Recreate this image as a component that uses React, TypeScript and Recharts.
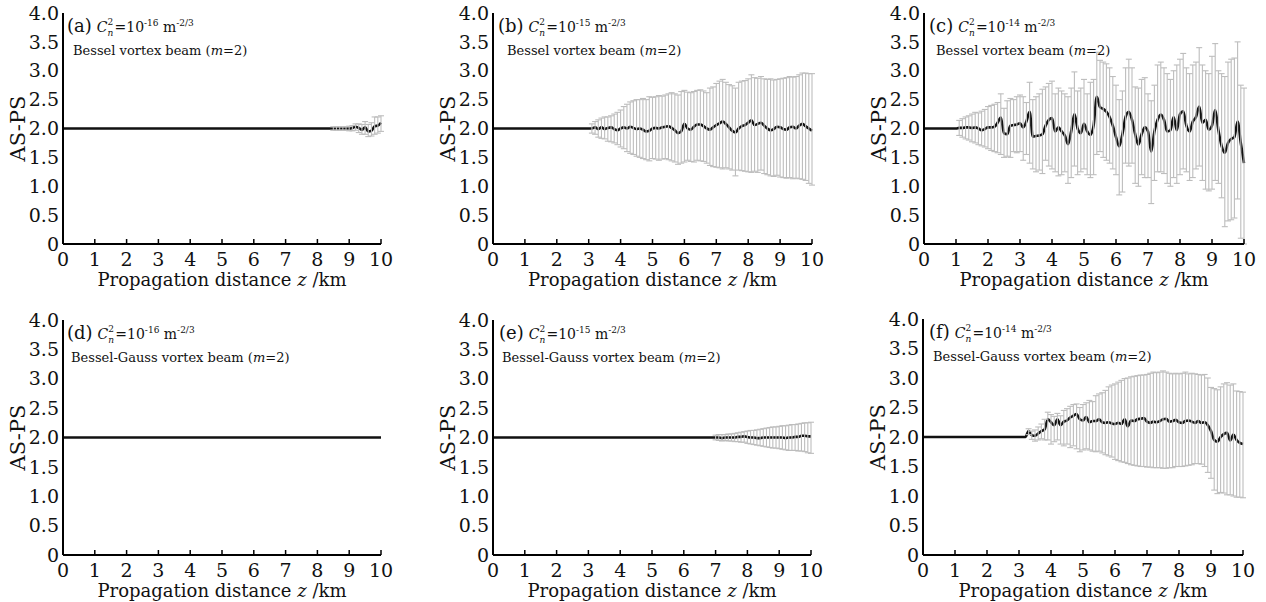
import React from 'react';
import { ComposedChart, Line, XAxis, YAxis, ErrorBar } from 'recharts';

// propagation distance grid, km (error bars are sampled every 0.1 km)
const Z_KM = [
  0, 0.1, 0.2, 0.3, 0.4, 0.5, 0.6, 0.7, 0.8, 0.9,
  1, 1.1, 1.2, 1.3, 1.4, 1.5, 1.6, 1.7, 1.8, 1.9,
  2, 2.1, 2.2, 2.3, 2.4, 2.5, 2.6, 2.7, 2.8, 2.9,
  3, 3.1, 3.2, 3.3, 3.4, 3.5, 3.6, 3.7, 3.8, 3.9,
  4, 4.1, 4.2, 4.3, 4.4, 4.5, 4.6, 4.7, 4.8, 4.9,
  5, 5.1, 5.2, 5.3, 5.4, 5.5, 5.6, 5.7, 5.8, 5.9,
  6, 6.1, 6.2, 6.3, 6.4, 6.5, 6.6, 6.7, 6.8, 6.9,
  7, 7.1, 7.2, 7.3, 7.4, 7.5, 7.6, 7.7, 7.8, 7.9,
  8, 8.1, 8.2, 8.3, 8.4, 8.5, 8.6, 8.7, 8.8, 8.9,
  9, 9.1, 9.2, 9.3, 9.4, 9.5, 9.6, 9.7, 9.8, 9.9,
  10,
];
const X_TICKS = [0, 1, 2, 3, 4, 5, 6, 7, 8, 9, 10];
const Y_TICKS = [0, 0.5, 1, 1.5, 2, 2.5, 3, 3.5, 4];
const FLAT_AS_PS = 2.0; // value before the beam starts to spread (m=2)

// (a) Bessel, Cn2 = 1e-16, from 8.5 km
const A_MEAN = [2.0, 2.0, 2.0, 2.0, 2.0, 2.0, 2.01, 2.03, 2.01, 1.98, 2.02, 1.95, 1.96, 2.04, 2.05, 2.1];
const A_HIGH = [2.03, 2.03, 2.03, 2.03, 2.03, 2.04, 2.05, 2.08, 2.08, 2.07, 2.12, 2.07, 2.1, 2.2, 2.2, 2.22];
const A_LOW = [1.97, 1.97, 1.97, 1.97, 1.97, 1.96, 1.96, 1.97, 1.93, 1.9, 1.9, 1.86, 1.87, 1.9, 1.92, 1.95];

// (b) Bessel, Cn2 = 1e-15, from 3.1 km
const B_MEAN = [
  2.0, 2.02, 1.99, 2.02, 1.99, 2.01, 2.02, 1.99, 1.97, 2.0,
  2.02, 2.0, 2.03, 2.01, 1.99, 2.0, 1.98, 1.95, 1.96, 2.0,
  2.01, 2.0, 2.02, 2.03, 2.04, 2.01, 1.97, 1.92, 1.95, 2.08,
  2.0, 1.98, 2.03, 2.07, 2.07, 2.04, 2.0, 1.98, 2.02, 2.06,
  2.09, 2.12, 2.08, 2.02, 1.96, 1.93, 2.0, 2.04, 2.06, 2.1,
  2.14, 2.06, 2.08, 2.1, 2.05, 2.0, 1.97, 1.99, 2.03, 2.02,
  1.99, 1.98, 2.02, 2.03, 2.0, 2.05, 2.08, 2.04, 2.0, 1.96,
];
const B_HIGH = [
  2.08, 2.12, 2.15, 2.18, 2.2, 2.2, 2.22, 2.25, 2.28, 2.32,
  2.38, 2.42, 2.46, 2.48, 2.5, 2.5, 2.52, 2.5, 2.55, 2.54,
  2.55, 2.57, 2.56, 2.58, 2.6, 2.62, 2.6, 2.58, 2.64, 2.66,
  2.63, 2.62, 2.64, 2.66, 2.67, 2.65, 2.62, 2.7, 2.72, 2.78,
  2.82, 2.85, 2.8, 2.76, 2.74, 2.7, 2.8, 2.82, 2.83, 2.86,
  2.93, 2.88, 2.87, 2.9, 2.86, 2.85, 2.86, 2.84, 2.85, 2.86,
  2.87, 2.88, 2.9, 2.89, 2.9, 2.93, 2.96, 2.96, 2.95, 2.95,
];
const B_LOW = [
  1.92, 1.9, 1.85, 1.83, 1.82, 1.78, 1.77, 1.75, 1.72, 1.68,
  1.65, 1.6, 1.57, 1.55, 1.52, 1.5, 1.48, 1.46, 1.44, 1.48,
  1.47, 1.45, 1.47, 1.48, 1.46, 1.44, 1.42, 1.38, 1.4, 1.42,
  1.45, 1.43, 1.42, 1.45, 1.44, 1.43, 1.4, 1.36, 1.34, 1.33,
  1.32, 1.3, 1.32, 1.3, 1.28, 1.18, 1.28, 1.27, 1.26, 1.25,
  1.24, 1.26, 1.24, 1.28, 1.22, 1.2, 1.18, 1.17, 1.19, 1.16,
  1.15, 1.14, 1.15, 1.13, 1.14, 1.13, 1.12, 1.1, 1.05, 1.02,
];

// (c) Bessel, Cn2 = 1e-14, from 1.1 km
const C_MEAN = [
  2.01, 2.01, 2.02, 2.02, 2.01, 2.02, 2.0, 1.97, 1.99, 2.02,
  2.02, 2.03, 2.1, 2.19, 1.92, 1.9, 2.05, 2.06, 2.07, 2.09,
  2.02, 2.12, 2.29, 1.86, 1.87, 1.88, 1.9, 2.05, 2.15, 2.18,
  1.95, 2.02, 1.95, 1.88, 1.73, 1.95, 2.25, 2.0, 1.92, 2.08,
  1.95, 1.89, 2.05, 2.55, 2.37, 2.34, 2.29, 2.2, 2.05, 1.85,
  1.69, 1.9, 2.2, 2.29, 2.15, 1.9, 1.72, 1.9, 2.02, 1.95,
  1.6, 1.95, 2.15, 2.24, 2.15, 1.95, 1.97, 2.2, 1.97, 2.25,
  2.3, 2.05, 1.95, 2.12, 2.2, 2.38, 2.1, 2.15, 1.98, 2.05,
  2.32, 1.97, 1.7, 1.58, 1.75, 1.82, 1.85, 2.12, 1.75, 1.4,
];
const C_HIGH = [
  2.14, 2.17, 2.2, 2.22, 2.25, 2.28, 2.27, 2.3, 2.33, 2.38,
  2.4, 2.42, 2.45, 2.6, 2.35, 2.48, 2.52, 2.5, 2.55, 2.58,
  2.55, 2.45, 2.8, 2.5, 2.55, 2.6, 2.68, 2.72, 2.78, 2.82,
  2.6, 2.7, 2.65, 2.6, 2.55, 2.7, 2.98, 2.65, 2.7, 2.85,
  2.6, 2.8, 2.85, 3.32, 3.18, 3.15, 3.12, 3.05, 2.9, 2.75,
  2.5, 2.65, 3.05, 3.2, 3.05, 2.72, 2.7, 2.85, 2.88, 2.6,
  2.48, 2.75, 3.1, 3.15, 3.05, 2.95, 2.85, 3.0, 3.1, 3.2,
  3.3, 3.05, 2.95, 3.1, 3.15, 3.4, 3.1, 3.0, 2.95, 3.25,
  3.47, 3.0, 2.95, 2.9, 3.15, 3.2, 3.22, 3.5, 2.75, 2.7,
];
const C_LOW = [
  1.88, 1.85, 1.82, 1.8, 1.77, 1.75, 1.72, 1.7, 1.68, 1.65,
  1.62, 1.6, 1.58, 1.55, 1.5, 1.52, 1.5, 1.6, 1.58, 1.6,
  1.45, 1.55, 1.4, 1.3, 1.25, 1.28, 1.22, 1.45, 1.35, 1.3,
  1.25, 1.18, 1.2, 1.25, 1.05, 1.15, 1.35, 1.2, 1.25, 1.3,
  1.2, 1.15, 1.2, 1.55, 1.6, 1.5, 1.45, 1.4, 1.3, 1.2,
  0.85, 0.9, 1.4, 1.35, 1.4, 1.05, 1.0, 1.2, 1.15, 1.15,
  0.7, 1.1, 1.25, 1.25, 1.22, 1.05, 1.0, 1.15, 1.05, 1.2,
  1.3, 1.25, 1.1, 1.15, 1.3, 1.35, 1.1, 0.95, 0.92, 0.95,
  1.1, 1.05, 0.8, 0.3, 0.4, 0.42, 0.45, 0.78, 0.1, 0,
];

// (d) Bessel-Gauss, Cn2 = 1e-16: stays flat
const D_MEAN = [2.0];

// (e) Bessel-Gauss, Cn2 = 1e-15, from 7 km
const E_MEAN = [
  2.0, 2.0, 1.99, 2.0, 2.0, 2.0, 2.0, 2.01, 2.01, 2.02,
  2.01, 2.0, 2.0, 1.99, 1.99, 2.0, 2.0, 2.0, 2.0, 2.0,
  2.0, 2.0, 1.99, 2.0, 2.0, 2.01, 2.01, 2.03, 2.03, 2.02,
  2.02,
];
const E_HIGH = [
  2.04, 2.05, 2.05, 2.05, 2.06, 2.06, 2.07, 2.08, 2.09, 2.1,
  2.11, 2.12, 2.12, 2.13, 2.14, 2.15, 2.16, 2.17, 2.18, 2.18,
  2.19, 2.2, 2.2, 2.21, 2.22, 2.22, 2.23, 2.24, 2.25, 2.25,
  2.26,
];
const E_LOW = [
  1.96, 1.95, 1.94, 1.95, 1.94, 1.94, 1.93, 1.93, 1.92, 1.92,
  1.9, 1.89, 1.88, 1.87, 1.86, 1.85, 1.84, 1.83, 1.82, 1.82,
  1.81, 1.8, 1.79, 1.78, 1.78, 1.78, 1.77, 1.77, 1.76, 1.74,
  1.73,
];

// (f) Bessel-Gauss, Cn2 = 1e-14, from 3.3 km
const F_MEAN = [
  2.1, 2.03, 2.02, 2.06, 2.1, 2.13, 2.3, 2.25,
  2.2, 2.3, 2.2, 2.26, 2.28, 2.33, 2.36, 2.39, 2.3, 2.28,
  2.34, 2.25, 2.27, 2.27, 2.3, 2.25, 2.24, 2.25, 2.23, 2.22,
  2.24, 2.22, 2.3, 2.18, 2.28, 2.27, 2.3, 2.31, 2.32, 2.26,
  2.24, 2.26, 2.25, 2.27, 2.3, 2.31, 2.26, 2.27, 2.29, 2.25,
  2.24, 2.27, 2.28, 2.26, 2.24, 2.27, 2.24, 2.25, 2.2, 2.1,
  1.95, 1.92, 2.0, 2.05, 2.07, 1.94, 2.04, 1.95, 1.9, 1.88,
];
const F_HIGH = [
  2.14, 2.1, 2.12, 2.17, 2.22, 2.3, 2.42, 2.38,
  2.35, 2.4, 2.36, 2.45, 2.48, 2.52, 2.55, 2.56, 2.5, 2.55,
  2.58, 2.62, 2.6, 2.7, 2.73, 2.75, 2.79, 2.85, 2.88, 2.9,
  2.93, 2.96, 2.99, 3.0, 3.02, 3.03, 3.04, 3.05, 3.05, 3.06,
  3.08, 3.1, 3.09, 3.1, 3.12, 3.1, 3.08, 3.07, 3.08, 3.07,
  3.08, 3.1, 3.07, 3.08, 3.07, 3.06, 3.05, 3.06, 3.0, 2.84,
  2.82, 2.8, 2.85, 2.9, 2.92, 2.88, 2.9, 2.78, 2.77, 2.76,
];
const F_LOW = [
  2.04, 1.96, 1.93, 1.95, 1.97, 1.95, 1.95, 1.88,
  1.92, 1.95, 1.88, 1.85, 1.88, 1.82, 1.85, 1.8, 1.75, 1.78,
  1.8, 1.78, 1.76, 1.75, 1.76, 1.73, 1.7, 1.68, 1.66, 1.62,
  1.6, 1.58, 1.57, 1.55, 1.53, 1.52, 1.51, 1.5, 1.5, 1.49,
  1.49, 1.48, 1.48, 1.48, 1.47, 1.47, 1.48, 1.48, 1.5, 1.5,
  1.5, 1.51, 1.52, 1.53, 1.55, 1.55, 1.54, 1.5, 1.4, 1.3,
  1.1, 1.04, 1.06, 1.05, 1.02, 1.02, 1.0, 0.98, 0.98, 0.97,
];

const FONT = '"DejaVu Serif", "Liberation Serif", serif';
const Y_AXIS_W = 63;
const TOP_PAD = 10;
const RIGHT_PAD = 24;
const X_AXIS_H = 46;
const BESSEL = 'Bessel vortex beam';
const BESSEL_GAUSS = 'Bessel-Gauss vortex beam';

const PANELS = [
  { id: 'a', exp: '-16', beam: BESSEL, from: 8.5, mean: A_MEAN, high: A_HIGH, low: A_LOW, plotLeft: 63, plotTop: 13, plotW: 318, plotH: 231, tagDx: 4, subDx: 10 },
  { id: 'b', exp: '-15', beam: BESSEL, from: 3.1, mean: B_MEAN, high: B_HIGH, low: B_LOW, plotLeft: 493, plotTop: 13, plotW: 319, plotH: 231, tagDx: 5, subDx: 14 },
  { id: 'c', exp: '-14', beam: BESSEL, from: 1.1, mean: C_MEAN, high: C_HIGH, low: C_LOW, plotLeft: 924, plotTop: 13, plotW: 320, plotH: 231, tagDx: 5, subDx: 12 },
  { id: 'd', exp: '-16', beam: BESSEL_GAUSS, from: 10, mean: D_MEAN, high: [], low: [], plotLeft: 63, plotTop: 320, plotW: 318, plotH: 235, tagDx: 4, subDx: 8 },
  { id: 'e', exp: '-15', beam: BESSEL_GAUSS, from: 7, mean: E_MEAN, high: E_HIGH, low: E_LOW, plotLeft: 493, plotTop: 320, plotW: 318, plotH: 235, tagDx: 6, subDx: 9 },
  { id: 'f', exp: '-14', beam: BESSEL_GAUSS, from: 3.3, mean: F_MEAN, high: F_HIGH, low: F_LOW, plotLeft: 923, plotTop: 319, plotW: 320, plotH: 236, tagDx: 6, subDx: 10 },
];

// flat AS-PS up to the grid point before the first error bar, then the measured means
function buildRows(from: number, mean: number[], high: number[], low: number[]) {
  const i0 = Z_KM.indexOf(from);
  const rows: any[] = [{ z: Z_KM[0], v: FLAT_AS_PS }, { z: Z_KM[i0 - 1], v: FLAT_AS_PS }];
  mean.forEach((m, i) => {
    const row: any = { z: Z_KM[i0 + i], v: m };
    if (high[i] !== undefined) row.err = [m - low[i], high[i] - m];
    rows.push(row);
  });
  return rows;
}

function XTitle(props: any) {
  const vb = props.viewBox || { x: 0, y: 0, width: 0, height: 0 };
  return (
    <text x={vb.x + vb.width / 2} y={vb.y + 42} textAnchor="middle" fontFamily={FONT} fontSize={18} fill="#111">
      {'Propagation distance '}
      <tspan fontStyle="italic">z</tspan>
      {' /km'}
    </text>
  );
}

function YTitle(props: any) {
  const vb = props.viewBox || { x: 0, y: 0, width: 0, height: 0 };
  const cx = vb.x + vb.width - 45;
  const cy = vb.y + vb.height / 2;
  return (
    <text x={cx} y={cy} transform={`rotate(-90, ${cx}, ${cy})`} textAnchor="middle" dominantBaseline="central" fontFamily={FONT} fontSize={21} fill="#111">
      AS-PS
    </text>
  );
}

const fmtY = (v: number) => (v === 0 ? '0' : v.toFixed(1));
const sup: React.CSSProperties = { position: 'relative', top: -6, fontSize: 9 };

function Panel({ spec }: { spec: any }) {
  const rows = buildRows(spec.from, spec.mean, spec.high, spec.low);
  const W = Y_AXIS_W + spec.plotW + RIGHT_PAD;
  const H = TOP_PAD + spec.plotH + X_AXIS_H;
  const frame = { stroke: '#000', strokeWidth: 2 };
  return (
    <div style={{ position: 'absolute', left: spec.plotLeft - Y_AXIS_W, top: spec.plotTop - TOP_PAD, width: W, height: H }}>
      <ComposedChart width={W} height={H} data={rows} margin={{ top: TOP_PAD, right: RIGHT_PAD, bottom: 0, left: 0 }}>
        <XAxis
          dataKey="z"
          type="number"
          domain={[0, 10]}
          ticks={X_TICKS}
          interval={0}
          height={X_AXIS_H}
          tickSize={-5}
          tickMargin={14}
          axisLine={frame}
          tickLine={{ stroke: '#000', strokeWidth: 1.5 }}
          tick={{ fill: '#111', fontSize: 19, fontFamily: FONT }}
          label={<XTitle />}
        />
        <XAxis xAxisId="top" orientation="top" dataKey="z" type="number" domain={[0, 10]} height={0} tick={false} tickLine={false} axisLine={frame} />
        <YAxis
          type="number"
          domain={[0, 4]}
          ticks={Y_TICKS}
          interval={0}
          width={Y_AXIS_W}
          tickSize={0}
          tickMargin={4}
          axisLine={frame}
          tickLine={false}
          tickFormatter={fmtY}
          tick={{ fill: '#111', fontSize: 19, fontFamily: FONT }}
          label={<YTitle />}
        />
        <YAxis
          yAxisId="right"
          orientation="right"
          type="number"
          domain={[0, 4]}
          ticks={Y_TICKS}
          interval={0}
          width={0}
          tickSize={-3}
          axisLine={frame}
          tickLine={{ stroke: '#555', strokeWidth: 1 }}
          tickFormatter={() => ''}
        />
        <Line type="monotone" dataKey="v" stroke="#111" strokeWidth={2.6} dot={false} activeDot={false} isAnimationActive={false} />
        <Line dataKey="v" stroke="none" dot={false} activeDot={false} isAnimationActive={false}>
          <ErrorBar dataKey="err" direction="y" width={3} stroke="#bdbdbd" strokeWidth={1.1} isAnimationActive={false} />
        </Line>
      </ComposedChart>

      <div style={{ position: 'absolute', left: Y_AXIS_W + spec.tagDx, top: TOP_PAD + 4, fontFamily: FONT, lineHeight: 1, whiteSpace: 'nowrap', color: '#111' }}>
        <span style={{ fontSize: 18 }}>({spec.id})</span>
        <span style={{ fontSize: 14, marginLeft: 5 }}>
          <i>C</i>
          <span style={{ display: 'inline-block', position: 'relative', width: 7, height: 14 }}>
            <span style={{ position: 'absolute', left: 0, top: 0, fontSize: 9 }}>2</span>
            <span style={{ position: 'absolute', left: 0, top: 11, fontSize: 9, fontStyle: 'italic' }}>n</span>
          </span>
          =10<span style={sup}>{spec.exp}</span>
          {' m'}<span style={sup}>-2/3</span>
        </span>
      </div>
      <div style={{ position: 'absolute', left: Y_AXIS_W + spec.subDx, top: TOP_PAD + 31, fontFamily: FONT, fontSize: 13, lineHeight: 1, whiteSpace: 'nowrap', color: '#111' }}>
        {spec.beam} (<i>m</i>=2)
      </div>
    </div>
  );
}

export default function App() {
  return (
    <div style={{ position: 'absolute', left: 0, top: 0, width: 1266, height: 602, background: '#fff', overflow: 'hidden' }}>
      {PANELS.map((p) => (
        <Panel key={p.id} spec={p} />
      ))}
    </div>
  );
}
